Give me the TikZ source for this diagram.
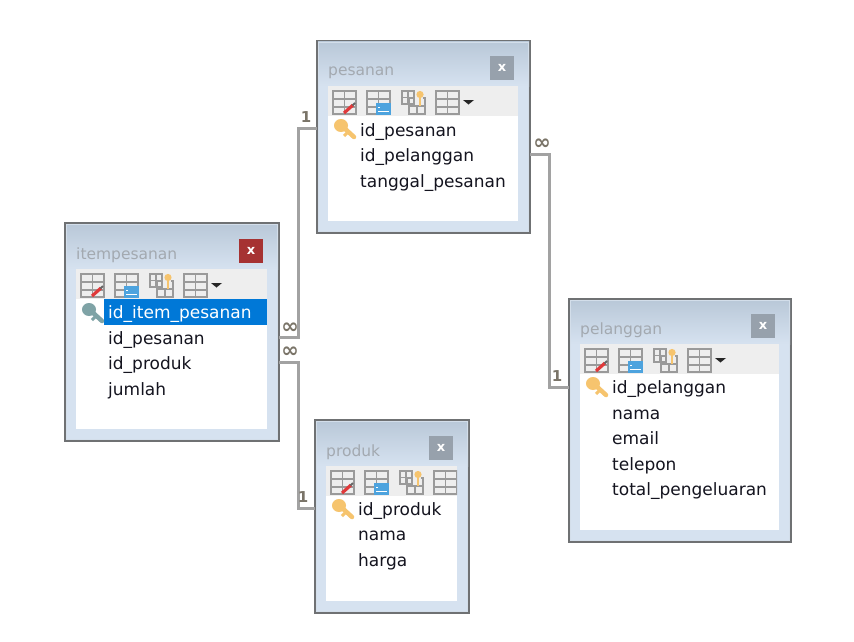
\documentclass[tikz,border=0pt]{standalone}
\usepackage{fontspec}
\setmainfont{DejaVu Sans}
\definecolor{winedge}{HTML}{6F7173}
\definecolor{wininner}{HTML}{D3DEEA}
\definecolor{wintop}{HTML}{B9C8D8}
\definecolor{winbot}{HTML}{D6E2F0}
\definecolor{toolbg}{HTML}{EEEEEE}
\definecolor{titlegray}{HTML}{A3A9B0}
\definecolor{btngray}{HTML}{97A1AC}
\definecolor{btnred}{HTML}{A63232}
\definecolor{icongray}{HTML}{9A9A9A}
\definecolor{connline}{HTML}{A2A2A2}
\definecolor{connlabel}{HTML}{7A7468}
\definecolor{keygold}{HTML}{F6C46E}
\definecolor{keygray}{HTML}{7FA3A6}
\definecolor{selblue}{HTML}{0078D7}
\definecolor{rowink}{HTML}{14141F}
\definecolor{panelblue}{HTML}{4DA3DE}
\definecolor{pencilred}{HTML}{E0393A}
\tikzset{
  winbox/.style={draw=winedge,line width=2pt,inner sep=0pt,outer sep=0pt,fill=winbot},
  titletext/.style={anchor=base west,inner sep=0pt,font=\fontsize{15.5}{18}\selectfont,text=titlegray},
  rowtext/.style={anchor=base west,inner sep=0pt,font=\fontsize{17}{20}\selectfont,text=rowink},
  closebtn/.style={inner sep=0pt,minimum width=24pt,minimum height=24pt,text=white,font=\bfseries\fontsize{13}{13}\selectfont},
  conn/.style={draw=connline,line width=3pt,line join=miter},
  cardone/.style={inner sep=0pt,text=connlabel,font=\bfseries\fontsize{15}{16}\selectfont},
  cardmany/.style={inner sep=0pt,text=connlabel,font=\bfseries\fontsize{21}{21}\selectfont},
  icongrid/.style={draw=icongray,line width=1.2pt}
}
% key icon, origin at upper left of a 22x20 box
\newcommand{\keyglyph}[1]{%
  \draw[#1,line width=4.5pt,line cap=round] (8,7) -- (20,18);
  \draw[#1,line width=3pt] (13,14) -- (10,17);
  \fill[#1] (7,6.5) ellipse [x radius=7,y radius=6.5];
}
\newcommand{\toolicons}{%
  % grid with pencil
  \begin{scope}[shift={(5,5)}]
    \draw[icongrid] (0,0) rectangle (23,23) (0,8) -- (23,8) (0,16) -- (23,16) (11.5,0) -- (11.5,23);
    \draw[pencilred,line width=3.2pt] (11,22) -- (20,14);
    \draw[black!60,line width=2pt] (19.5,14.5) -- (22,12);
  \end{scope}
  % grid with blue panel
  \begin{scope}[shift={(39,5)}]
    \draw[icongrid] (0,0) rectangle (23,23) (0,8) -- (23,8) (0,16) -- (23,16) (11.5,0) -- (11.5,23);
    \fill[panelblue] (9,12) rectangle (24,24);
    \draw[white,line width=.8pt] (11,16) -- (13,16) (11,20) -- (22,20);
  \end{scope}
  % overlapping grids with key
  \begin{scope}[shift={(74,5)}]
    \draw[icongrid] (7,7) rectangle (23,23) (7,15) -- (23,15) (15,7) -- (15,23);
    \fill[toolbg] (12,0) rectangle (21,14);
    \draw[icongrid] (0,0) rectangle (12,13) (0,6.5) -- (12,6.5) (6,0) -- (6,13);
    \draw[keygold,line width=2.5pt] (18,3) -- (18,15);
    \fill[keygold] (18,3.5) circle [radius=3.6];
  \end{scope}
  % grid with drop arrow
  \begin{scope}[shift={(108,5)}]
    \draw[icongrid] (0,0) rectangle (23,23) (0,8) -- (23,8) (0,16) -- (23,16) (11.5,0) -- (11.5,23);
    \fill[black!85] (27,9) -- (38,9) -- (32.5,13.5) -- cycle;
  \end{scope}
}
% #1 name, #2 inner left, #3 toolbar top, #4 inner width, #5 inner height, #6 title, #7 button colour
\newcommand{\tablewin}[7]{%
  \begin{scope}[shift={(#2,#3)}]
    \pgfmathsetmacro{\wn}{#4+23}
    \pgfmathsetmacro{\hn}{#5+(#3==269||#3==466?46:45)+12}
    \pgfmathsetmacro{\tp}{(#3==269||#3==466?46:45)}
    \node[winbox,anchor=north west,minimum width=\wn pt,minimum height=\hn pt] (#1) at (-11,-\tp) {};
    \pgfmathsetmacro{\rx}{#4+11}
    \pgfmathsetmacro{\ty}{-\tp+1}
    \shade[top color=wintop,bottom color=winbot] (-10,\ty) rectangle (\rx,0);
    \pgfmathsetmacro{\by}{#5+11}
    \draw[wininner,line width=1pt] (-9.5,\ty+.5) rectangle (\rx-.5,\by-.5);
    \fill[white] (0,0) rectangle (#4,#5);
    \fill[toolbg] (0,0) rectangle (#4,30);
    \begin{scope}
      \clip (0,0) rectangle (#4,30);
      \toolicons
    \end{scope}
    \node[titletext] (#1-title) at (0,-10) {#6};
    \pgfmathsetmacro{\bx}{#4-16}
    \node[closebtn,fill=#7] (#1-close) at (\bx,-18) {x};
  \end{scope}
}
\newcommand{\rowtxt}[5][rowink]{%
  \node[rowtext,text=#1] (#2) at (#3,#4) {#5};
}
\newcommand{\keyat}[3]{%
  \begin{scope}[shift={(#1,#2)}]\keyglyph{#3}\end{scope}
}
\begin{document}
\begin{tikzpicture}[x=1pt,y=-1pt]
\useasboundingbox (0,0) rectangle (854,642);
\fill[white] (0,0) rectangle (854,642);

\tablewin{pesanan}{328}{86}{190}{135}{pesanan}{btngray}
\tablewin{itempesanan}{76}{269}{191}{160}{itempesanan}{btnred}
\tablewin{produk}{326}{466}{131}{135}{produk}{btngray}
\tablewin{pelanggan}{580}{344}{199}{186}{pelanggan}{btngray}

\keyat{334}{119}{keygold}
\rowtxt{pes1}{360}{136}{id\_pesanan}
\rowtxt{pes2}{360}{161.5}{id\_pelanggan}
\rowtxt{pes3}{360}{187}{tanggal\_pesanan}

\fill[selblue] (104,299) rectangle (267,325);
\keyat{82}{303}{keygray}
\rowtxt[white]{item1}{108}{318.5}{id\_item\_pesanan}
\rowtxt{item2}{108}{344}{id\_pesanan}
\rowtxt{item3}{108}{369.5}{id\_produk}
\rowtxt{item4}{108}{395}{jumlah}

\keyat{332}{499}{keygold}
\rowtxt{pro1}{358}{515}{id\_produk}
\rowtxt{pro2}{358}{540.5}{nama}
\rowtxt{pro3}{358}{566}{harga}

\keyat{586}{377}{keygold}
\rowtxt{pel1}{612}{393.5}{id\_pelanggan}
\rowtxt{pel2}{612}{419}{nama}
\rowtxt{pel3}{612}{444.5}{email}
\rowtxt{pel4}{612}{470}{telepon}
\rowtxt{pel5}{612}{495.5}{total\_pengeluaran}

\draw[conn] ([yshift=-87pt]pesanan.north west) -- ++(-19,0) |- ([yshift=-114pt]itempesanan.north east);
\draw[conn] ([yshift=-139pt]itempesanan.north east) -- ++(19,0) |- ([yshift=-88pt]produk.north west);
\draw[conn] ([yshift=-113pt]pesanan.north east) -- ++(19,0) |- ([yshift=-88pt]pelanggan.north west);

\node[cardone] (l1) at (306,117) {1};
\node[cardone] (l2) at (303,497) {1};
\node[cardone] (l3) at (557,376) {1};
\node[cardmany] (m1) at (290,328) {∞};
\node[cardmany] (m2) at (290,352) {∞};
\node[cardmany] (m3) at (542,144) {∞};
\end{tikzpicture}
\end{document}
